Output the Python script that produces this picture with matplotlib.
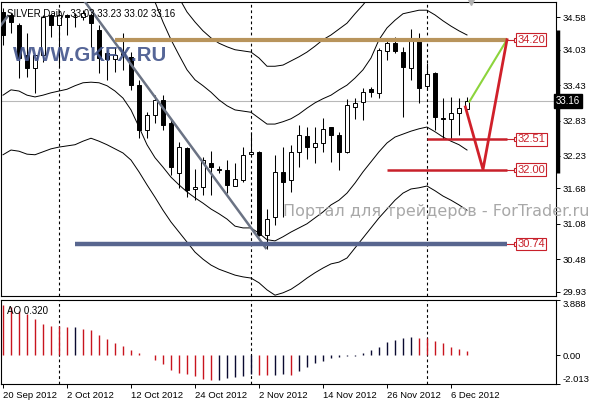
import matplotlib
matplotlib.use("Agg")
import matplotlib.pyplot as plt
import matplotlib.transforms as mtransforms
import numpy as np

plt.rcParams['font.family'] = ['Liberation Sans', 'DejaVu Sans']

# ---- data ----
title = "SILVER,Daily  33.03 33.23 33.02 33.16"

opens = [34.67, 34.62, 34.45, 33.94, 33.72, 33.94, 34.62, 34.45, 34.62, 34.59,
         34.58, 34.62, 34.36, 33.97, 33.87, 33.94, 33.91, 33.43, 32.67, 32.92,
         33.18, 32.79, 31.94, 32.36, 31.67, 31.70, 32.11, 31.99, 31.99, 31.72,
         31.82, 32.26, 32.30, 30.89, 31.19, 31.96, 31.82, 32.30, 32.57, 32.38,
         32.45, 32.72, 32.59, 32.30, 33.06, 33.14, 33.36, 33.30, 34.01, 34.14,
         33.99, 33.72, 34.21, 33.41, 33.64, 32.87, 32.86, 32.96, 33.03]
highs = [34.74, 34.65, 34.48, 34.31, 33.94, 34.62, 34.64, 34.65, 34.64, 34.65,
         34.70, 34.65, 34.45, 34.03, 34.08, 34.31, 33.99, 33.52, 32.97, 33.26,
         33.26, 32.85, 32.47, 32.38, 32.01, 32.21, 32.31, 32.06, 32.16, 32.11,
         32.38, 32.64, 32.32, 31.33, 32.25, 32.38, 32.42, 32.75, 32.72, 32.72,
         32.87, 32.72, 32.64, 33.20, 33.21, 33.38, 33.40, 34.06, 34.21, 34.25,
         34.08, 34.38, 34.31, 33.80, 33.65, 33.21, 33.23, 33.21, 33.23]
lows = [34.11, 34.31, 33.55, 33.57, 33.30, 33.82, 34.25, 33.74, 34.28, 34.42,
        34.53, 34.08, 33.64, 33.52, 33.65, 33.69, 33.35, 32.53, 32.53, 32.79,
        32.67, 31.91, 31.69, 31.53, 31.48, 31.57, 31.57, 31.94, 31.60, 31.72,
        31.79, 32.25, 30.87, 30.65, 31.06, 31.19, 31.62, 32.04, 32.18, 32.11,
        32.30, 32.13, 31.99, 32.28, 32.86, 32.84, 33.23, 33.21, 33.86, 33.98,
        32.89, 33.52, 33.13, 33.35, 32.67, 32.52, 32.52, 32.59, 33.02]
closes = [34.28, 34.50, 33.89, 33.72, 33.94, 34.59, 34.45, 34.62, 34.59, 34.58,
          34.65, 34.48, 33.89, 33.87, 33.94, 33.99, 33.43, 32.67, 32.92, 33.18,
          32.75, 32.04, 32.38, 31.65, 31.70, 32.16, 32.04, 31.99, 31.74, 31.84,
          32.25, 32.30, 30.89, 31.16, 31.96, 31.79, 32.30, 32.58, 32.38, 32.45,
          32.69, 32.59, 32.30, 33.09, 33.13, 33.31, 33.31, 34.03, 34.14, 34.01,
          33.74, 34.20, 33.38, 33.62, 32.89, 32.86, 32.96, 33.04, 33.16]

nan = float('nan')
band_upper_wide = [nan] * 21 + [
    35.21, 34.91, 34.67, 34.50, 34.35, 34.23, 34.14, 34.08, 34.03, 34.01,
    33.99, 33.89, 33.75, 33.75, 33.77, 33.84, 33.91, 33.99, 34.09, 34.20,
    34.28, 34.38, 34.48, 34.64, 34.79, 34.96, 35.21] + [nan] * 11
band_upper = [nan] * 17 + [
    35.55, 35.20, 34.84, 34.50, 34.20, 33.94, 33.69, 33.52, 33.42, 33.31,
    33.18, 33.08, 33.01, 32.99, 32.97, 32.87, 32.77, 32.77, 32.81, 32.86,
    32.94, 33.04, 33.13, 33.20, 33.26, 33.35, 33.43, 33.55, 33.69, 33.89,
    34.20, 34.40, 34.53, 34.64, 34.67, 34.70, 34.70, 34.62, 34.52, 34.43,
    34.35, 34.28]
band_lower = [33.26, 33.35, 33.33, 33.26, 33.23, 33.26, 33.30, 33.33, 33.36, 33.42,
              33.47, 33.48, 33.47, 33.42, 33.33, 33.21, 33.01, 32.72, 32.42, 32.20,
              32.04, 31.87, 31.74, 31.62, 31.52, 31.43, 31.33, 31.25, 31.16, 31.04,
              31.01, 31.01, 30.92, 30.81, 30.79, 30.86, 30.94, 31.01, 31.08, 31.18,
              31.28, 31.40, 31.48, 31.60, 31.77, 31.96, 32.13, 32.30, 32.45, 32.55,
              32.60, 32.65, 32.69, 32.72, 32.64, 32.55, 32.48, 32.42, 32.33]
band_lower_wide = [32.25, 32.33, 32.31, 32.26, 32.25, 32.30, 32.35, 32.38, 32.40, 32.42,
                   32.48, 32.53, 32.48, 32.42, 32.35, 32.28, 32.16, 31.96, 31.74, 31.53,
                   31.31, 31.11, 30.94, 30.77, 30.60, 30.48, 30.38, 30.31, 30.26, 30.21,
                   30.18, 30.16, 30.08, 29.96, 29.87, 29.91, 29.97, 30.06, 30.16, 30.25,
                   30.33, 30.40, 30.43, 30.50, 30.67, 30.84, 31.01, 31.18, 31.33, 31.48,
                   31.60, 31.67, 31.69, 31.72, 31.64, 31.55, 31.48, 31.40, 31.31]

ao_values = [3.55, 3.38, 3.15, 2.90, 2.52, 2.22, 2.08, 2.03, 1.96, 2.00,
             1.88, 1.76, 1.42, 1.18, 0.86, 0.66, 0.39, 0.13, 0.03, -0.33,
             -0.62, -1.02, -1.22, -1.30, -1.47, -1.64, -1.76, -1.70, -1.56, -1.50,
             -1.46, -1.33, -1.37, -1.40, -1.36, -1.33, -1.38, -1.12, -0.83, -0.55,
             -0.38, -0.21, -0.12, -0.06, -0.02, 0.13, 0.36, 0.61, 0.91, 1.10,
             1.21, 1.26, 1.24, 1.20, 1.00, 0.85, 0.60, 0.44, 0.32]
ao_label = "AO 0.320"

date_bars = [0, 8, 16, 24, 32, 40, 48, 56]
date_labels = ["20 Sep 2012", "2 Oct 2012", "12 Oct 2012", "24 Oct 2012",
               "2 Nov 2012", "14 Nov 2012", "26 Nov 2012", "6 Dec 2012"]
month_starts = [7, 31, 53]

price_ticks = [34.58, 34.03, 33.43, 32.83, 32.23, 31.68, 31.08, 30.48, 29.93]
ao_ticks = [3.888, 0.0, -2.013]
ao_tick_labels = ["3.888", "0.00", "-2.013"]

levels = [34.20, 32.51, 32.00, 30.74]
level_from = [14, 53, 48, 9]
level_to = 63
level_colors = ['#b8945c', '#c8202a', '#c8202a', '#58668f']
level_widths = [3.0, 1.8, 1.8, 3.2]

trend_bars = [10.1, 32.85]
trend_prices = [34.87, 30.67]
old_trend_bars = [-0.4, 0.6]
old_trend_prices = [34.42, 34.60]

up_path_bars = [58.3, 63.0]
up_path_prices = [33.15, 34.20]
down_path_bars = [57.8, 60.0, 63.0]
down_path_prices = [33.06, 32.00, 34.20]

last_price = 33.16
range_marker = [34.36, 31.94]

# ---- figure ----
W, H = 596, 400
fig = plt.figure(figsize=(W / 100, H / 100), dpi=100)
fig.patch.set_facecolor('white')
ax = fig.add_axes([1 / W, 1 - 296 / H, 555 / W, 294 / H])
ao_ax = fig.add_axes([1 / W, 1 - 384 / H, 555 / W, 84 / H])

idx = np.arange(len(closes))
o = np.array(opens); c = np.array(closes)

ax.set_xlim(-0.25, 69.125)
ax.set_ylim(29.856, 34.839)
ao_ax.set_xlim(-0.25, 69.125)
ao_ax.set_ylim(-2.013, 3.888)

# current price line
ax.axhline(last_price, color='#b8b8b8', lw=0.8, zorder=1)

# bands
for band in (band_upper_wide, band_upper, band_lower, band_lower_wide):
    ax.plot(idx, band, color='black', lw=0.7, zorder=2)

# candles
ax.vlines(idx, lows, highs, color='black', lw=0.75, zorder=3)
body_h = np.maximum(np.abs(c - o), 0.012)
fills = ['white' if cl >= op else 'black' for op, cl in zip(o, c)]
ax.bar(idx, body_h, bottom=np.minimum(o, c), width=0.6, color=fills,
       edgecolor='black', linewidth=0.7, zorder=4)

# month separators
for m in month_starts:
    ax.axvline(m, color='black', lw=0.8, ls=(0, (2.5, 2.5)), zorder=2)
    ao_ax.axvline(m, color='black', lw=0.8, ls=(0, (2.5, 2.5)), zorder=2)

# trend lines
ax.plot(trend_bars, trend_prices, color='#6b7384', lw=1.8, zorder=5)
ax.plot(old_trend_bars, old_trend_prices, color='#6b7384', lw=1.8, zorder=5)

# horizontal levels with price labels
for lv, start, col, lw in zip(levels, level_from, level_colors, level_widths):
    ax.hlines(lv, start, level_to, color=col, lw=lw, zorder=5)
    ax.plot([level_to, level_to + 1.2], [lv, lv], color='#c8202a', lw=0.8, zorder=5)
    ax.plot(level_to + 1.1, lv, marker='s', ms=2.5, mfc='white', mec='#c8202a',
            mew=0.8, zorder=6)
    ax.text(level_to + 1.3, lv, f"{lv:.2f}", ha='left', va='center', fontsize=8,
            color='#c8202a', zorder=7,
            bbox=dict(boxstyle='square,pad=0.12', fc='white', ec='#c8202a', lw=0.8))

# forecast zigzag
ax.plot(up_path_bars, up_path_prices, color='#8cd43c', lw=1.5, zorder=6)
ax.plot(down_path_bars, down_path_prices, color='#d0202a', lw=2.0, zorder=6)

# axis styling
for a in (ax, ao_ax):
    for s in a.spines.values():
        s.set_color('black'); s.set_linewidth(0.8)
    a.yaxis.tick_right()
    a.tick_params(axis='y', direction='out', length=3, width=0.7, pad=2,
                  labelsize=6.8, colors='black')
ax.set_xticks([])
ax.set_yticks(price_ticks)
ax.set_yticklabels([f"{t:.2f}" for t in price_ticks])

ao_ax.set_yticks(ao_ticks)
ao_ax.set_yticklabels(ao_tick_labels)
ylabs = ao_ax.get_yticklabels()
ylabs[0].set_va('top')
ylabs[-1].set_va('bottom')
ao_ax.set_xticks(date_bars)
ao_ax.set_xticklabels(date_labels)
ao_ax.tick_params(axis='x', direction='out', length=3, width=0.7, pad=2,
                  labelsize=6.8)
for lab in ao_ax.get_xticklabels():
    lab.set_ha('left')

# AO histogram
ao_colors = ['#c8141e' if i == 0 or ao_values[i] < ao_values[i - 1] else '#0a0a30'
             for i in range(len(ao_values))]
ao_ax.vlines(idx, 0, ao_values, colors=ao_colors, lw=1.0, zorder=3)
ao_ax.text(0.01, 0.93, ao_label, transform=ao_ax.transAxes, fontsize=7,
           ha='left', va='top')

# right side price box and range marker
blend = mtransforms.blended_transform_factory(ax.transAxes, ax.transData)
ax.text(1.0, last_price, f"{last_price:.2f}", transform=blend, ha='left',
        va='center', fontsize=7, color='white', zorder=8, clip_on=False,
        bbox=dict(boxstyle='square,pad=0.2', fc='black', ec='black'))
ax.plot([1.004, 1.004], range_marker, transform=blend, color='black', lw=2.5,
        solid_capstyle='butt', clip_on=False, zorder=7)
top_blend = mtransforms.blended_transform_factory(ax.transData, ax.transAxes)
ax.plot(len(closes) - 0.5, 1.0, transform=top_blend, marker='v', ms=5,
        color='#b0b0b0', clip_on=False, zorder=8)

# title and watermarks
ax.text(0.01, 0.975, title, transform=ax.transAxes, ha='left', va='top',
        fontsize=7, zorder=9)
fig.text(13 / W, 1 - 61 / H, "WWW.GKFX.RU", ha='left', va='baseline',
         fontsize=14.7, fontweight='bold', color='#43558c', alpha=0.9,
         family=['Liberation Sans', 'DejaVu Sans'], zorder=10)
fig.text(283 / W, 1 - 216 / H, "Портал для трейдеров - ForTrader.ru",
         ha='left', va='baseline', fontsize=11.5, color='#a8a8a8',
         family=['DejaVu Sans'], zorder=10)

fig.savefig("out.png", dpi=100)
